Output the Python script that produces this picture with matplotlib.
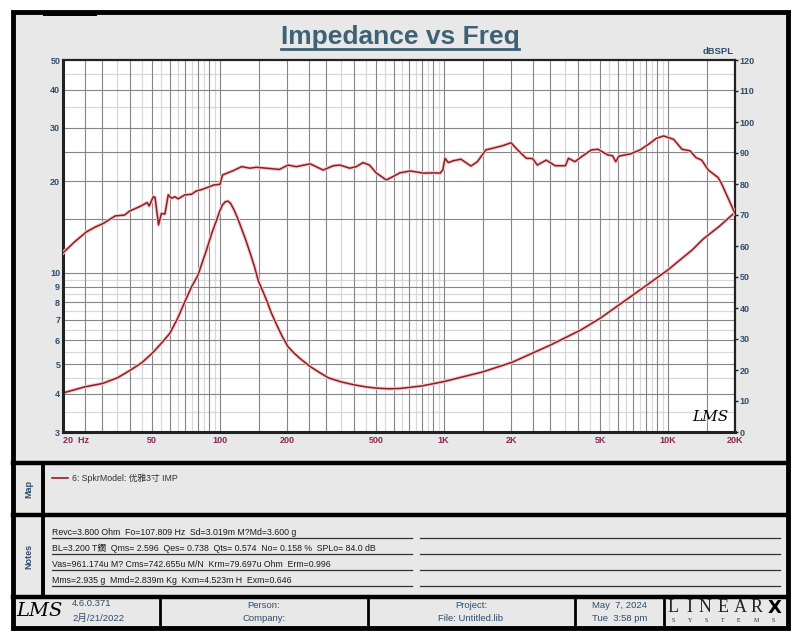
import matplotlib
matplotlib.use("Agg")
import matplotlib.pyplot as plt
from matplotlib.patches import Rectangle

plt.rcParams['font.family'] = ['Liberation Sans', 'Noto Sans CJK SC', 'DejaVu Sans']

# impedance curve (ohm, left axis)
imp_freq = [20, 25, 30, 35, 40, 45, 50, 55, 60, 65, 70, 75, 80, 84, 87.5, 92, 97,
            100, 103, 106, 109, 112, 116, 120, 123, 130, 137, 143, 149, 155, 162,
            170, 180, 190, 202, 215, 228, 254, 280, 306, 350, 402, 450, 502, 570,
            640, 800, 1000, 1500, 2020, 3000, 4100, 5000, 7000, 10000, 12900,
            14400, 17000, 20000]
imp_ohm = [4.03, 4.22, 4.33, 4.52, 4.79, 5.07, 5.44, 5.87, 6.33, 7.09, 8.04, 9.0,
           9.8, 10.9, 11.9, 13.4, 14.9, 15.9, 16.7, 17.1, 17.2, 16.9, 16.1, 15.2,
           14.5, 13.0, 11.6, 10.5, 9.4, 8.8, 8.14, 7.4, 6.74, 6.2, 5.72, 5.45,
           5.24, 4.92, 4.7, 4.52, 4.38, 4.28, 4.22, 4.18, 4.16, 4.17, 4.25, 4.39,
           4.73, 5.08, 5.79, 6.49, 7.09, 8.45, 10.2, 11.9, 12.9, 14.2, 15.8]

# SPL curve (dB, right axis)
spl_freq = [20, 22.5, 25.5, 28, 30.3, 34.2, 37.7, 39.7, 44, 47.5, 48.5, 50.6, 51.5,
            53.4, 55, 57, 59, 61, 63.2, 65.3, 70, 75, 78.5, 84, 94.5, 100.5, 103,
            115, 125.5, 136.6, 146, 161.5, 185, 202, 220, 254, 290, 322, 345, 381,
            408, 437, 467, 500, 555, 595, 638, 710, 815, 905, 965, 992, 1015, 1050,
            1105, 1195, 1325, 1415, 1545, 1650, 1825, 2000, 2140, 2340, 2500, 2620,
            2870, 3150, 3500, 3610, 3860, 4130, 4570, 4890, 5400, 5680, 5870, 6070,
            6820, 7540, 8330, 8900, 9600, 10650, 11600, 12600, 13400, 14200, 15200,
            16800, 17400, 20000]
spl_db = [57.8, 61.3, 64.6, 66.2, 67.3, 69.7, 70.0, 71.3, 72.7, 74.0, 72.9, 75.9,
          75.7, 66.8, 70.5, 70.3, 76.5, 75.4, 75.9, 75.2, 76.5, 76.7, 77.7, 78.3,
          79.7, 79.9, 82.9, 84.3, 85.6, 85.1, 85.4, 85.1, 84.7, 86.1, 85.6, 86.5,
          84.5, 85.9, 86.1, 85.1, 85.6, 86.9, 86.1, 83.6, 81.3, 82.4, 83.6, 84.2,
          83.5, 83.6, 83.5, 84.5, 88.3, 86.9, 87.5, 88.0, 85.8, 87.2, 91.0, 91.5,
          92.3, 93.3, 91.0, 88.3, 88.2, 86.1, 87.7, 85.9, 85.9, 88.3, 87.2, 88.8,
          91.0, 91.2, 89.4, 89.1, 87.2, 89.0, 89.7, 91.0, 93.1, 94.7, 95.5, 94.4,
          91.2, 90.7, 88.5, 87.7, 84.5, 82.1, 80.2, 70.5]

x_ticks = [20, 50, 100, 200, 500, 1000, 2000, 5000, 10000, 20000]
x_labels = ['20  Hz', '50', '100', '200', '500', '1K', '2K', '5K', '10K', '20K']
ohm_ticks = [3, 4, 5, 6, 7, 8, 9, 10, 20, 30, 40, 50]
db_ticks = list(range(0, 121, 10))

notes = ['Revc=3.800 Ohm  Fo=107.809 Hz  Sd=3.019m M?Md=3.600 g',
         'BL=3.200 T鐧  Qms= 2.596  Qes= 0.738  Qts= 0.574  No= 0.158 %  SPLo= 84.0 dB',
         'Vas=961.174u M? Cms=742.655u M/N  Krm=79.697u Ohm  Erm=0.996',
         'Mms=2.935 g  Mmd=2.839m Kg  Kxm=4.523m H  Exm=0.646']
map_label = '6: SpkrModel: 优雅3寸 IMP'

RED = '#8e1e24'
HALO = '#f4cccc'
SLATE = '#2f4c6c'
MAROON = '#87284e'
W, H = 800, 640


def box(x0, y0, x1, y1):
    return [x0 / W, 1 - y1 / H, (x1 - x0) / W, (y1 - y0) / H]


fig = plt.figure(figsize=(8, 6.4), dpi=100)
fig.patch.set_facecolor('white')

# page axes in pixel coordinates for the frame and text panels
pg = fig.add_axes([0, 0, 1, 1])
pg.set_xlim(0, W)
pg.set_ylim(H, 0)
pg.axis('off')
pg.add_patch(Rectangle((13, 12), 775, 616, facecolor='#e8e8e8', edgecolor='black', lw=3.5))
pg.add_patch(Rectangle((43, 11), 54, 5, facecolor='black', edgecolor='none'))
for y in [463, 515, 597]:
    pg.plot([13, 788], [y, y], color='black', lw=3.2)
pg.plot([43, 43], [463, 597], color='black', lw=2.8)
for x in [160, 368, 575, 664]:
    pg.plot([x, x], [597, 628], color='black', lw=2)

# title
pg.text(400, 37, 'Impedance vs Freq', ha='center', va='center', fontsize=19,
        fontweight='bold', color='#3d6275')
pg.plot([281, 519], [48.5, 48.5], color='#3d6275', lw=2)
pg.text(734, 52, 'dBSPL', ha='right', va='center', fontsize=6.8, fontweight='bold', color=SLATE)

# map panel
pg.text(29, 489, 'Map', rotation=90, ha='center', va='center', fontsize=6.5,
        fontweight='bold', color=SLATE)
pg.plot([52, 68], [478, 478], color=RED, lw=1.2)
pg.text(72, 478, map_label, ha='left', va='center', fontsize=6.3, color='#333333')

# notes panel
pg.text(29, 556, 'Notes', rotation=90, ha='center', va='center', fontsize=6.5,
        fontweight='bold', color=SLATE)
for i, y in enumerate([532.5, 548.5, 564.5, 580.5]):
    pg.text(52, y, notes[i], ha='left', va='center', fontsize=6.3, color='#1a1a1a')
    pg.plot([52, 412], [y + 5, y + 5], color='#333333', lw=0.9)
    pg.plot([420, 780], [y + 5, y + 5], color='#333333', lw=0.9)

# footer
pg.text(39, 611, 'LMS', ha='center', va='center', fontsize=14, fontstyle='italic',
        family='DejaVu Serif', color='black')
pg.text(72, 604, '4.6.0.371', ha='left', va='center', fontsize=6.8, color=SLATE)
pg.text(72, 618.5, '2月/21/2022', ha='left', va='center', fontsize=6.8, color=SLATE)
for cx, l1, l2 in [(264, 'Person:', 'Company:'), (471, 'Project:', 'File: Untitled.lib'),
                   (620, 'May  7, 2024', 'Tue  3:58 pm')]:
    pg.text(cx, 605.5, l1, ha='center', va='center', fontsize=6.8, color=SLATE)
    pg.text(cx, 618.5, l2, ha='center', va='center', fontsize=6.8, color=SLATE)
for x, ch in zip([673, 689, 705, 723, 740, 757], 'LINEAR'):
    pg.text(x, 608, ch, ha='center', va='center', fontsize=13, family='Liberation Serif',
            color='#222222')
pg.text(775, 608, 'X', ha='center', va='center', fontsize=13, fontweight='bold',
        family='DejaVu Sans', color='black')
for x, ch in zip([673, 690, 706, 723, 739, 756, 773], 'SYSTEMS'):
    pg.text(x, 621, ch, ha='center', va='center', fontsize=4.2, family='Liberation Serif',
            color='#222222')

# chart area
ax = fig.add_axes(box(63, 60, 735, 432))
ax.set_facecolor('white')
ax.set_xscale('log')
ax.set_yscale('log')
ax.set_xlim(20, 20000)
ax.set_ylim(3, 50)

dark_m = [1, 1.5, 2, 2.5, 3, 4, 5, 6, 7, 8, 9]
light_m = [3.5, 4.5, 5.5, 6.5, 7.5, 8.5, 9.5]
for dec in [10, 100, 1000, 10000]:
    for m in light_m:
        f = m * dec
        if 20 < f < 20000:
            ax.axvline(f, color='#d8d8d8', lw=0.9, zorder=1)
    for m in dark_m:
        f = m * dec
        if 20 < f < 20000:
            ax.axvline(f, color='#858585', lw=0.8, zorder=1.2)
for dec in [1, 10]:
    for m in light_m:
        z = m * dec
        if 3 < z < 50:
            ax.axhline(z, color='#d8d8d8', lw=0.9, zorder=1)
    for m in dark_m:
        z = m * dec
        if 3 < z < 50:
            ax.axhline(z, color='#858585', lw=0.8, zorder=1.2)

ax.plot(imp_freq, imp_ohm, color=HALO, lw=2.6, zorder=3)
ax.plot(imp_freq, imp_ohm, color=RED, lw=1.1, zorder=4)

ax.set_xticks(x_ticks)
ax.set_xticklabels(x_labels)
ax.xaxis.set_minor_locator(matplotlib.ticker.NullLocator())
ax.set_yticks(ohm_ticks)
ax.set_yticklabels([str(t) for t in ohm_ticks])
ax.yaxis.set_minor_locator(matplotlib.ticker.NullLocator())
ax.tick_params(axis='x', length=0, pad=3, labelsize=6.5, labelcolor=MAROON)
ax.tick_params(axis='y', length=0, pad=2, labelsize=6.5, labelcolor=SLATE)
for lab in ax.get_xticklabels():
    lab.set_fontweight('bold')
for lab in ax.get_yticklabels():
    lab.set_fontweight('bold')
ax.get_xticklabels()[0].set_ha('left')
for s in ['left', 'bottom']:
    ax.spines[s].set_linewidth(2.2)
for s in ['top', 'right']:
    ax.spines[s].set_linewidth(1.6)
for s in ax.spines.values():
    s.set_color('#222222')
    s.set_zorder(6)

ax2 = ax.twinx()
ax2.set_ylim(0, 120)
ax2.plot(spl_freq, spl_db, color=HALO, lw=2.6, zorder=3)
ax2.plot(spl_freq, spl_db, color=RED, lw=1.1, zorder=4)
ax2.set_yticks(db_ticks)
ax2.set_yticklabels([str(t) for t in db_ticks])
ax2.tick_params(axis='y', length=2.5, width=1, pad=1, labelsize=6.5, labelcolor=SLATE,
                color='#222222')
for lab in ax2.get_yticklabels():
    lab.set_fontweight('bold')
for s in ax2.spines.values():
    s.set_visible(False)

ax2.text(0.99, 0.04, 'LMS', transform=ax2.transAxes, ha='right', va='center',
         fontsize=11, fontstyle='italic', family='DejaVu Serif', color='black')

fig.savefig('out.png', dpi=100, facecolor='white')
